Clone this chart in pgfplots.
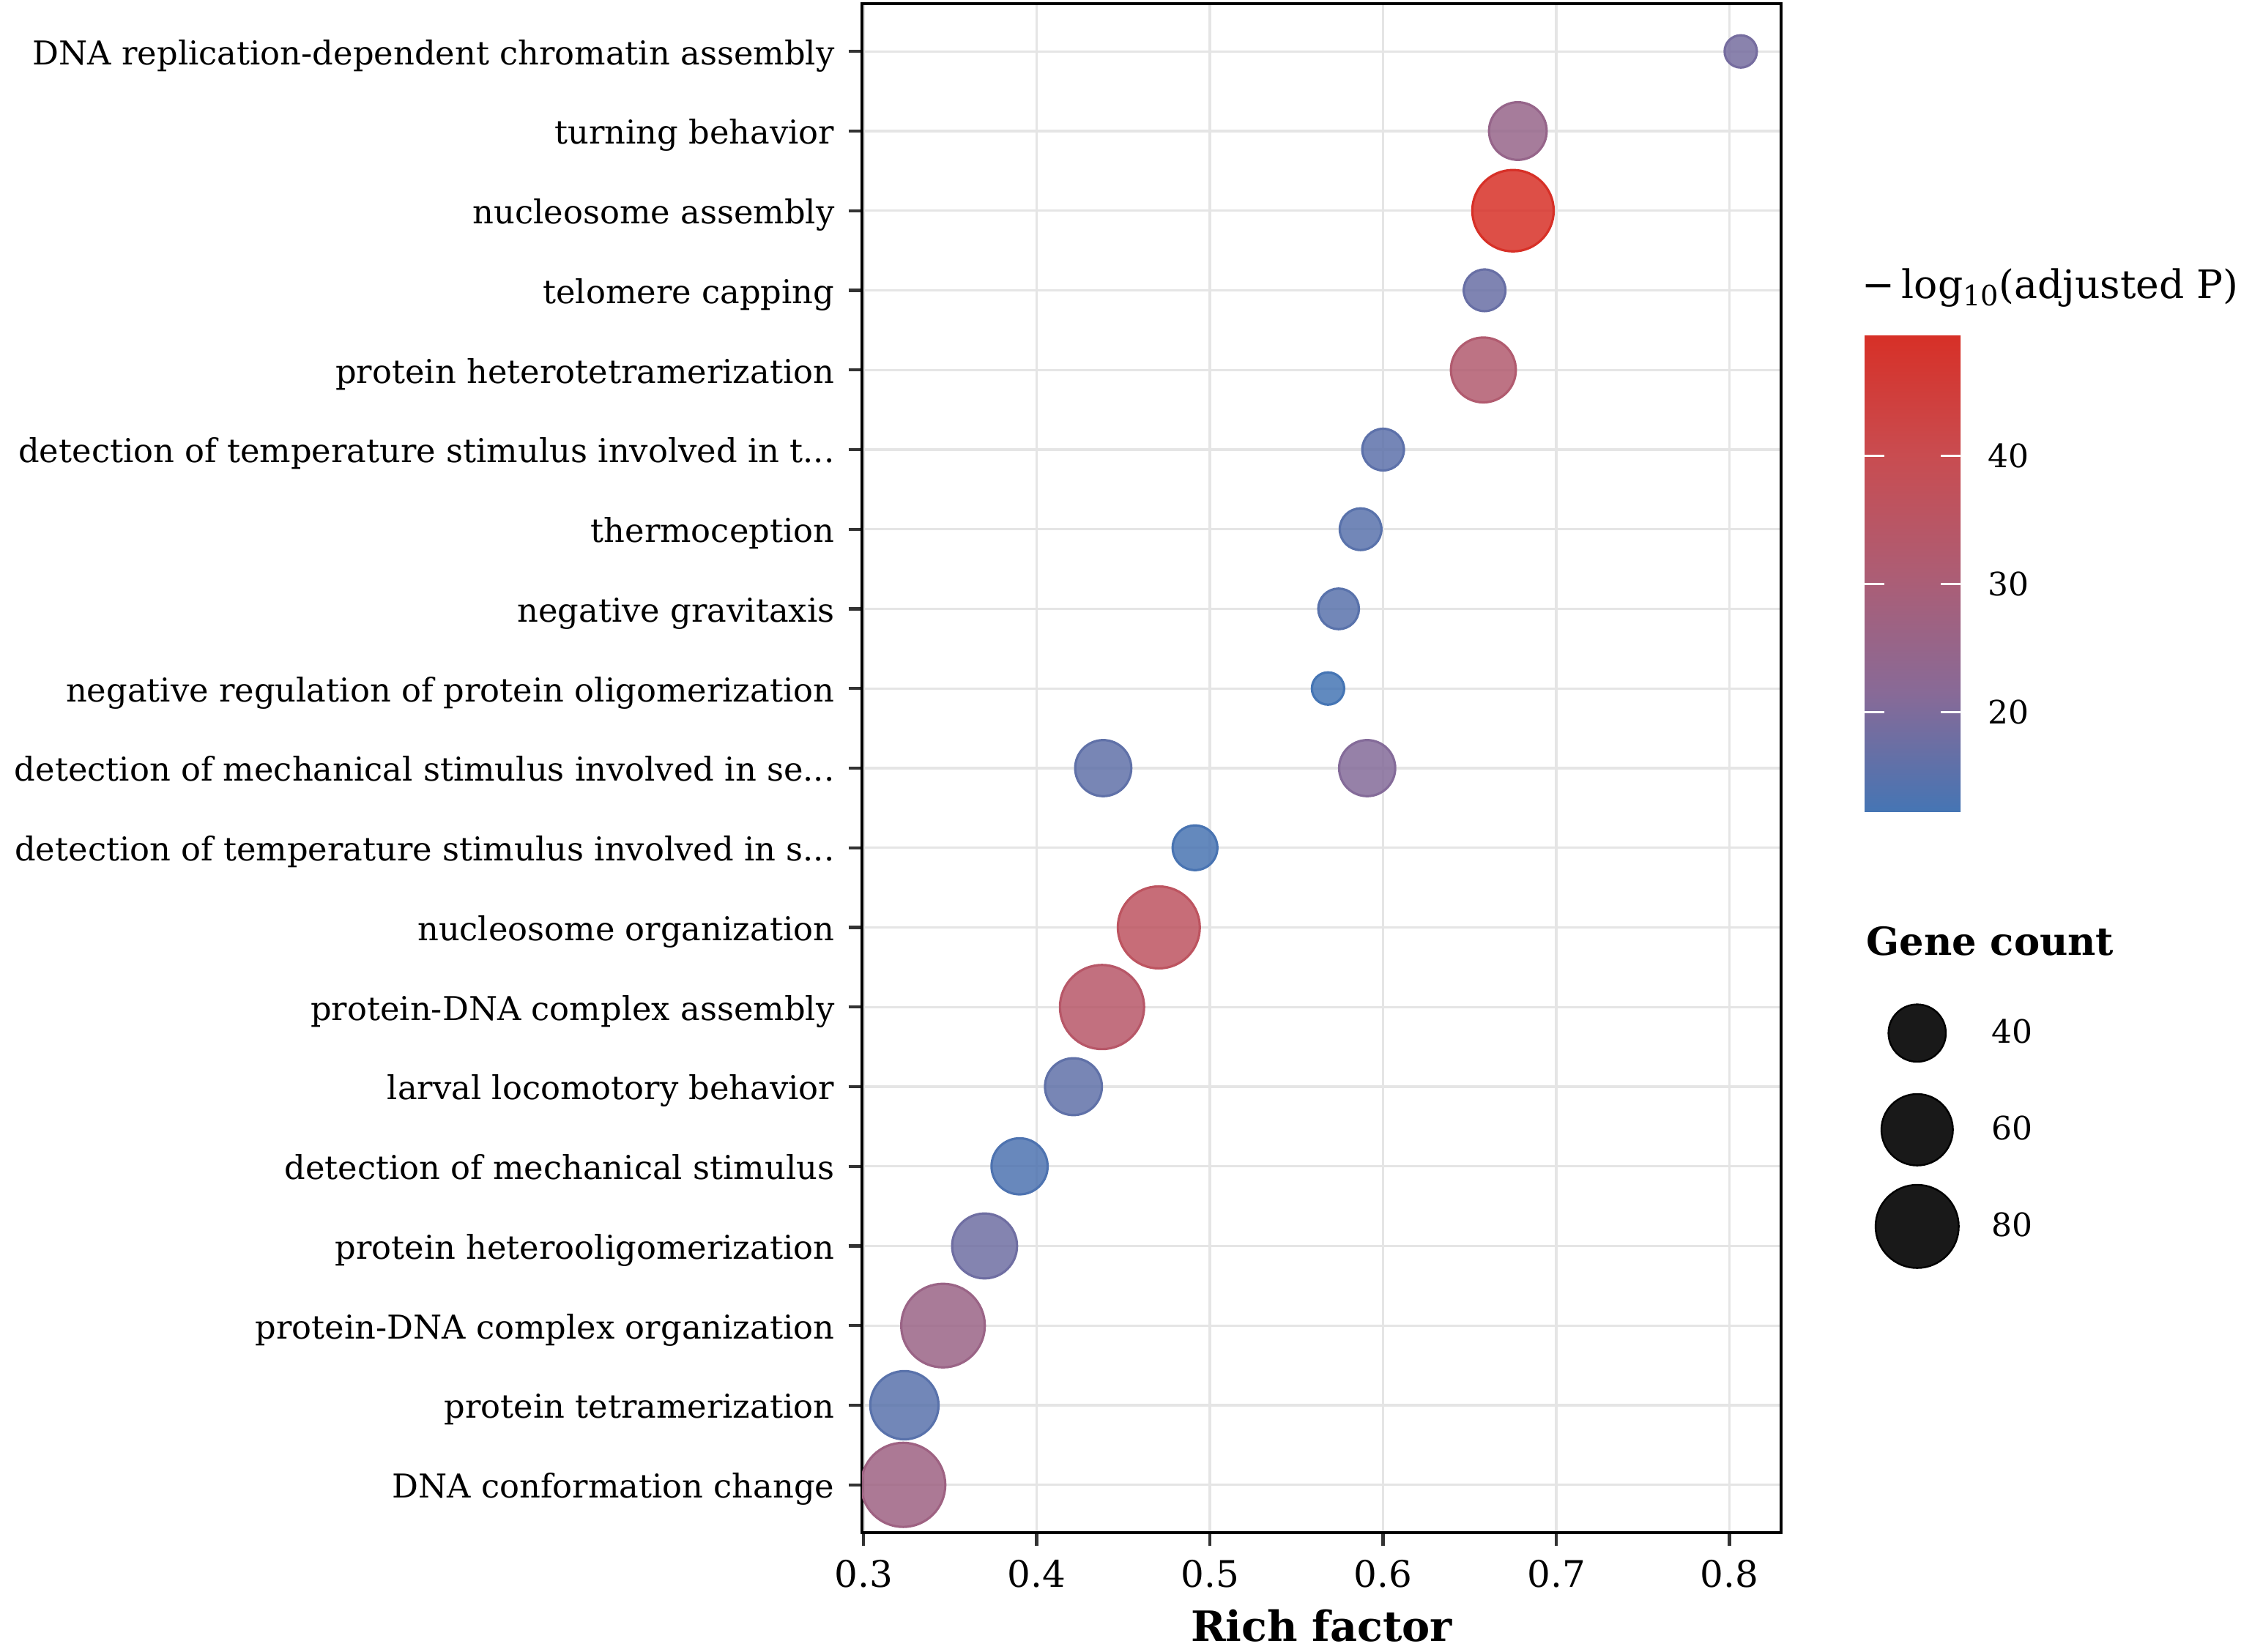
\documentclass[border=0pt]{standalone}
\usepackage{fontspec}
\setmainfont{DejaVu Serif}
\usepackage{pgfplots}
\pgfplotsset{compat=1.18}
\usepackage{pgfplotstable}
\newcommand{\tdots}{...}

% x = rich factor, y = row (bottom = 1), n = gene count, p = -log10(adjusted P)
\pgfplotstableread{
x      y  n   p
0.3229 1  83  27
0.3236 2  56  15
0.3459 3  82  26
0.3699 4  51  18
0.3901 5  39  13.5
0.4212 6  40  16
0.4377 7  83  34
0.4705 8  79  36
0.4914 9  26  12.8
0.4384 10 39  16
0.5908 10 39  21
0.5682 11 15  12.2
0.5743 12 22  15
0.5870 13 23  15
0.6000 14 23  15.5
0.6579 15 51  32
0.6586 16 23  17
0.6750 17 78  49.4
0.6778 18 41  25
0.8065 19 15  19
}\datatable

\begin{document}
\begin{tikzpicture}
\useasboundingbox (0,0) rectangle (765pt,564pt);
\begin{axis}[
  at={(294.25pt,40.75pt)}, anchor=south west,
  scale only axis, width=313.75pt, height=522pt,
  xmin=0.2991, xmax=0.8298, ymin=0.4, ymax=19.6,
  xtick={0.3,0.4,0.5,0.6,0.7,0.8},
  xticklabels={0.3,0.4,0.5,0.6,0.7,0.8},
  ytick={1,2,3,4,5,6,7,8,9,10,11,12,13,14,15,16,17,18,19},
  yticklabels={
    DNA conformation change,
    protein tetramerization,
    protein-DNA complex organization,
    protein heterooligomerization,
    detection of mechanical stimulus,
    larval locomotory behavior,
    protein-DNA complex assembly,
    nucleosome organization,
    detection of temperature stimulus involved in s\tdots,
    detection of mechanical stimulus involved in se\tdots,
    negative regulation of protein oligomerization,
    negative gravitaxis,
    thermoception,
    detection of temperature stimulus involved in t\tdots,
    protein heterotetramerization,
    telomere capping,
    nucleosome assembly,
    turning behavior,
    DNA replication-dependent chromatin assembly},
  xtick pos=bottom, ytick pos=left,
  tick align=outside, major tick length=4.6pt,
  tick style={color=black!80, line width=1.1pt},
  axis line style={black, line width=1.1pt},
  xmajorgrids, ymajorgrids,
  grid style={color=black!10, line width=0.8pt},
  yticklabel style={font=\fontsize{11.2}{13}\selectfont, anchor=base east, inner sep=0pt, xshift=-4.6pt, yshift=-4.5pt},
  xticklabel style={font=\fontsize{12.5}{14}\selectfont, anchor=north, inner sep=0pt, yshift=-4.65pt},
  xlabel={Rich factor},
  xlabel style={font=\bfseries\fontsize{14.3}{16}\selectfont, at={(axis description cs:0.5,0)}, anchor=base, inner sep=0pt, yshift=-37.25pt},
  clip marker paths=true,
  colormap={gg}{rgb255=(69,117,180) rgb255=(136,106,151) rgb255=(173,93,116) rgb255=(201,76,80) rgb255=(215,48,39)},
  point meta min=12.2, point meta max=49.4,
  colorbar,
  colorbar/width=32.75pt,
  colorbar style={
    scale only axis, width=32.75pt, height=162.75pt,
    at={(parent axis.north east)}, anchor=north west, xshift=20pt, yshift=-113.25pt,
    ytick={20,30,40}, yticklabels={20,30,40},
    axis line style={draw=none},
    tick style={color=white, line width=0.9pt},
    ytick style={color=white, line width=0.9pt},
    major tick length=6.7pt, tick align=inside,
    ytick pos=both, yticklabel pos=right,
    yticklabel style={font=\fontsize{11}{13}\selectfont, anchor=west, inner sep=0pt, xshift=9.25pt},
  },
  legend cell align=left,
  legend style={at={(1.1012,0.34243)}, anchor=north west, draw=none, fill=none, inner sep=0pt,
    font=\fontsize{11}{13}\selectfont, row sep=17pt,
    /tikz/every odd column/.style={column sep=9pt}},
]
\addplot[
  forget plot,
  scatter, only marks, mark=*,
  scatter src=explicit,
  line width=0.8pt,
  visualization depends on={sqrt(2.6875*(\thisrow{n}-2))-0.4 \as \msize},
  scatter/@pre marker code/.code={%
    \pgfplotscolormapdefinemappedcolor{\pgfplotspointmetatransformed}%
    \scope[draw=mapped color, fill=mapped color, fill opacity=0.85, mark size=\msize pt]%
  },
  scatter/@post marker code/.code={\endscope},
] table[x=x, y=y, meta=p] {\datatable};
\addlegendimage{legend image code/.code={\path[draw=none, fill=none] (0pt,-8pt) rectangle (29pt,8pt); \draw[black, fill=black!90, line width=0.6pt, overlay] (14.5pt,0pt) circle (9.8pt);}}
\addlegendentry{40}
\addlegendimage{legend image code/.code={\path[draw=none, fill=none] (0pt,-8pt) rectangle (29pt,8pt); \draw[black, fill=black!90, line width=0.6pt, overlay] (14.5pt,0pt) circle (12.2pt);}}
\addlegendentry{60}
\addlegendimage{legend image code/.code={\path[draw=none, fill=none] (0pt,-8pt) rectangle (29pt,8pt); \draw[black, fill=black!90, line width=0.6pt, overlay] (14.5pt,0pt) circle (14.2pt);}}
\addlegendentry{80}
\end{axis}
\node[anchor=base west, inner sep=0pt, font=\fontsize{13.4}{15}\selectfont] at (635.5pt,462pt) {−\,log\raisebox{-0.35ex}{\fontsize{9.6}{10}\selectfont 10}(adjusted P)};
\node[anchor=base west, inner sep=0pt, font=\bfseries\fontsize{13.2}{15}\selectfont] at (637pt,237.8pt) {Gene count};
\end{tikzpicture}
\end{document}
